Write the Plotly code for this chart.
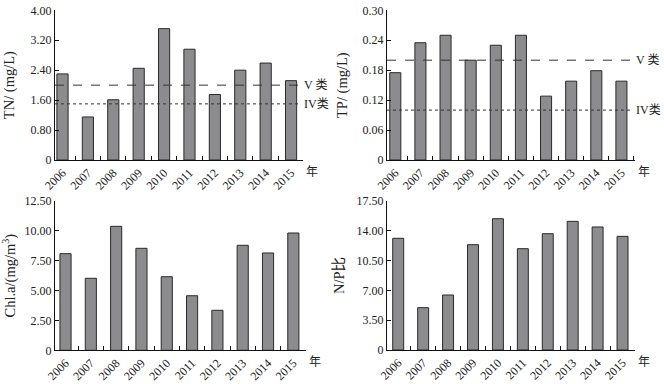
import plotly.graph_objects as go
from plotly.subplots import make_subplots

years = ["2006", "2007", "2008", "2009", "2010", "2011", "2012", "2013", "2014", "2015"]
tn = [2.30, 1.15, 1.61, 2.45, 3.51, 2.96, 1.75, 2.40, 2.59, 2.12]
tp = [0.175, 0.235, 0.25, 0.20, 0.23, 0.25, 0.128, 0.158, 0.179, 0.158]
chla = [8.09, 6.03, 10.38, 8.54, 6.16, 4.57, 3.35, 8.79, 8.15, 9.82]
np_ratio = [13.12, 4.97, 6.46, 12.37, 15.42, 11.90, 13.66, 15.11, 14.45, 13.35]

tn_ticks = [0, 0.8, 1.6, 2.4, 3.2, 4.0]
tn_labels = ["0", "0.80", "1.60", "2.40", "3.20", "4.00"]
tp_ticks = [0, 0.06, 0.12, 0.18, 0.24, 0.30]
tp_labels = ["0", "0.06", "0.12", "0.18", "0.24", "0.30"]
chla_ticks = [0, 2.5, 5.0, 7.5, 10.0, 12.5]
chla_labels = ["0", "2.50", "5.00", "7.50", "10.00", "12.50"]
np_ticks = [0, 3.5, 7.0, 10.5, 14.0, 17.5]
np_labels = ["0", "3.50", "7.00", "10.50", "14.00", "17.50"]

tn_std = {"V 类": 2.0, "IV类": 1.5}
tp_std = {"V 类": 0.2, "IV类": 0.1}

W, H = 664, 384
FONT = "Liberation Serif, 'Times New Roman', 'Noto Sans CJK SC', serif"
TXT = "#222222"

fig = make_subplots(rows=2, cols=2)

panels = [
    (1, 1, tn, tn_ticks, tn_labels, "TN/ (mg/L)", (55, 303), (10.3, 160), (-0.295, 9.47), 12),
    (1, 2, tp, tp_ticks, tp_labels, "TP/ (mg/L)", (387, 635), (10.3, 160), (-0.33, 9.54), 11),
    (2, 1, chla, chla_ticks, chla_labels, "Chl.a/(mg/m<sup>3</sup>)", (55, 306), (201, 350.3), (-0.415, 9.5), 7),
    (2, 2, np_ratio, np_ticks, np_labels, "N/P比", (387, 635), (201, 350), (-0.45, 9.5), 8),
]

for i, (r, c, vals, tv, tt, title, xd, yd, xr, so) in enumerate(panels):
    fig.add_trace(go.Bar(x=years, y=vals, width=0.44,
                         marker=dict(color="#8c8c8e", line=dict(color="#2a2a2a", width=1)),
                         showlegend=False, hoverinfo="x+y"), row=r, col=c)
    n = "" if i == 0 else str(i + 1)
    fig.layout["xaxis" + n].update(
        domain=[xd[0] / W, xd[1] / W], type="category", range=list(xr),
        automargin=False,
        showline=True, linecolor="#111", linewidth=1, ticks="inside", tickson="boundaries",
        ticklen=4, tickcolor="#111", tickangle=-45, showgrid=False, zeroline=False,
        tickfont=dict(family=FONT, size=12, color=TXT))
    fig.layout["yaxis" + n].update(
        domain=[1 - yd[1] / H, 1 - yd[0] / H], range=[0, tv[-1]],
        automargin=False,
        tickvals=tv, ticktext=tt, showline=True, linecolor="#111", linewidth=1,
        ticks="inside", ticklen=4, tickcolor="#111", showgrid=False, zeroline=False,
        tickfont=dict(family=FONT, size=12, color=TXT),
        title=dict(text=title, font=dict(family=FONT, size=14.5, color=TXT), standoff=so))
    fig.add_annotation(text="年", xref="x" + n + " domain", yref="y" + n + " domain",
                       x=1, y=0, xanchor="left", yanchor="middle", xshift=1, yshift=-12,
                       showarrow=False, font=dict(family=FONT, size=12, color=TXT))

for n, std in (("", tn_std), ("2", tp_std)):
    for label, val in std.items():
        dash = "dash" if label.startswith("V") else "dot"
        fig.add_shape(type="line", xref="x" + n + " domain", yref="y" + n,
                      x0=0, x1=0.99, y0=val, y1=val,
                      line=dict(color="#333333", width=1, dash=dash))
        fig.add_annotation(text=label, xref="x" + n + " domain", yref="y" + n,
                           x=1, y=val, xanchor="left", yanchor="middle", xshift=-1,
                           showarrow=False, font=dict(family=FONT, size=12, color=TXT))

fig.update_layout(width=W, height=H, margin=dict(l=0, r=0, t=0, b=0, autoexpand=False),
                  plot_bgcolor="white", paper_bgcolor="white", bargap=0.5)

fig.write_html("out.html", config={"displayModeBar": False},
               post_script="document.body.style.margin='0px';")
